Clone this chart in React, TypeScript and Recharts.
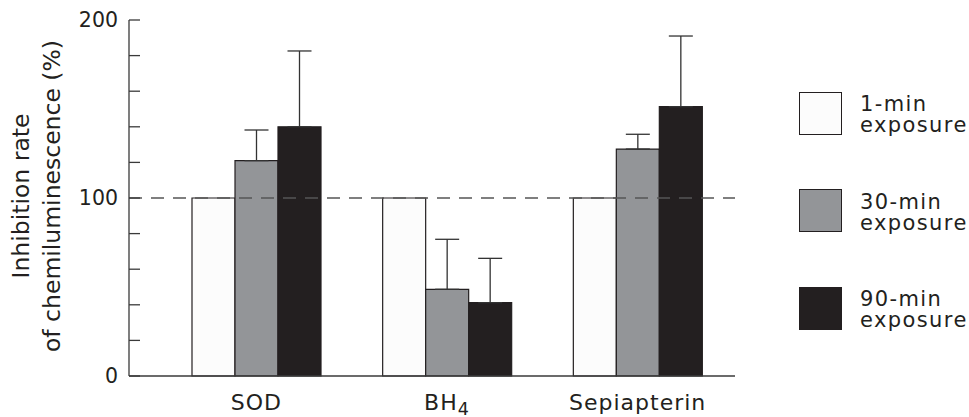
import React from 'react';
import { BarChart, Bar, XAxis, YAxis, ErrorBar, ReferenceLine } from 'recharts';

const categories = ['SOD', 'BH4', 'Sepiapterin'];
const min1Values = [100, 100, 100];
const min30Values = [121, 48.7, 127.5];
const min90Values = [140, 41.2, 151.3];
const min30Errors = [17.2, 28.1, 8.3];
const min90Errors = [42.6, 24.9, 39.7];
const yTicks = [0, 20, 40, 60, 80, 100, 120, 140, 160, 180, 200];
const yLabelTicks = [0, 100, 200];
const yTitleLines = ['Inhibition rate', 'of chemiluminescence (%)'];
const seriesNames = ['1-min\nexposure', '30-min\nexposure', '90-min\nexposure'];
const seriesColors = ['#fcfcfc', '#939598', '#231f20'];
const referenceValue = 100;

const data = categories.map((c, i) => ({
  name: c,
  m1: min1Values[i],
  m30: min30Values[i],
  m90: min90Values[i],
  e30: [0, min30Errors[i]],
  e90: [0, min90Errors[i]],
}));

const FONT = '"DejaVu Sans", Verdana, sans-serif';
const TEXT = '#231f20';
const AXIS = '#3a3a3a';

const XTick = (props: any) => {
  const { x, y, payload } = props;
  const label = String(payload.value);
  const m = label.match(/^(.*?[A-Za-z])(\d+)$/);
  return (
    <text x={x} y={y} dy="0.71em" textAnchor="middle" fontFamily={FONT} fontSize={22} letterSpacing={1} fill={TEXT}>
      {m ? (
        <>
          <tspan>{m[1]}</tspan>
          <tspan dy={5} fontSize={17.5}>{m[2]}</tspan>
        </>
      ) : (
        label
      )}
    </text>
  );
};

const YTitle = () => {
  const cy = 196;
  const cx = 29;
  return (
    <text
      transform={`translate(${cx}, ${cy}) rotate(-90)`}
      fontFamily={FONT}
      fontSize={23.5}
      fill={TEXT}
    >
      {yTitleLines.map((line, i) => (
        <tspan key={line} x={0} y={i * 31} textAnchor="middle">
          {line}
        </tspan>
      ))}
    </text>
  );
};

const LegendBox = () => (
  <div style={{ position: 'absolute', left: 0, top: 0, width: 969, height: 417, pointerEvents: 'none' }}>
    {seriesNames.map((n, i) => {
      const top = 91.7 + i * 97.5;
      const lines = n.split('\n');
      return (
        <React.Fragment key={n}>
          <div
            style={{
              position: 'absolute',
              left: 799,
              top,
              width: 41,
              height: 41,
              background: seriesColors[i],
              border: '1px solid #231f20',
            }}
          />
          <div
            style={{
              position: 'absolute',
              left: 860,
              top: top + 2.5,
              fontFamily: FONT,
              fontSize: 21,
              letterSpacing: 1.4,
              lineHeight: '21px',
              color: TEXT,
              whiteSpace: 'nowrap',
            }}
          >
            {lines.map((l) => (
              <div key={l}>{l}</div>
            ))}
          </div>
        </React.Fragment>
      );
    })}
  </div>
);

export default function App() {
  return (
    <div style={{ position: 'absolute', left: 0, top: 0, width: 969, height: 417, overflow: 'hidden', background: '#fff' }}>
      <BarChart
        width={969}
        height={417}
        data={data}
        margin={{ top: 20, right: 234, bottom: 0, left: 69 }}
        barGap={0}
        barSize={43}
      >
        <XAxis
          dataKey="name"
          height={41}
          padding={{ left: 32, right: 2 }}
          tickLine={false}
          tickSize={0}
          tickMargin={18}
          axisLine={{ stroke: AXIS, strokeWidth: 1.3 }}
          tick={<XTick />}
          interval={0}
        />
        <YAxis
          width={60}
          domain={[0, 200]}
          ticks={yTicks}
          interval={0}
          tickSize={-11}
          tickMargin={22}
          tickLine={{ stroke: AXIS, strokeWidth: 1.3 }}
          axisLine={{ stroke: AXIS, strokeWidth: 1.3 }}
          tickFormatter={(v: number) => (yLabelTicks.includes(v) ? String(v) : '')}
          tick={{ fontFamily: FONT, fontSize: 20.5, fill: TEXT }}
          label={{ content: <YTitle /> }}
        />
        <Bar dataKey="m1" fill={seriesColors[0]} stroke="#231f20" strokeWidth={1.2} isAnimationActive={false} />
        <Bar dataKey="m30" fill={seriesColors[1]} stroke="#231f20" strokeWidth={1.2} isAnimationActive={false}>
          <ErrorBar dataKey="e30" width={12} stroke="#333" strokeWidth={1.3} isAnimationActive={false} />
        </Bar>
        <Bar dataKey="m90" fill={seriesColors[2]} stroke="#231f20" strokeWidth={1.2} isAnimationActive={false}>
          <ErrorBar dataKey="e90" width={12} stroke="#333" strokeWidth={1.3} isAnimationActive={false} />
        </Bar>
        <ReferenceLine y={referenceValue} stroke="#555" strokeWidth={1.5} strokeDasharray="13 9" ifOverflow="extendDomain" />
      </BarChart>
      <LegendBox />
    </div>
  );
}
